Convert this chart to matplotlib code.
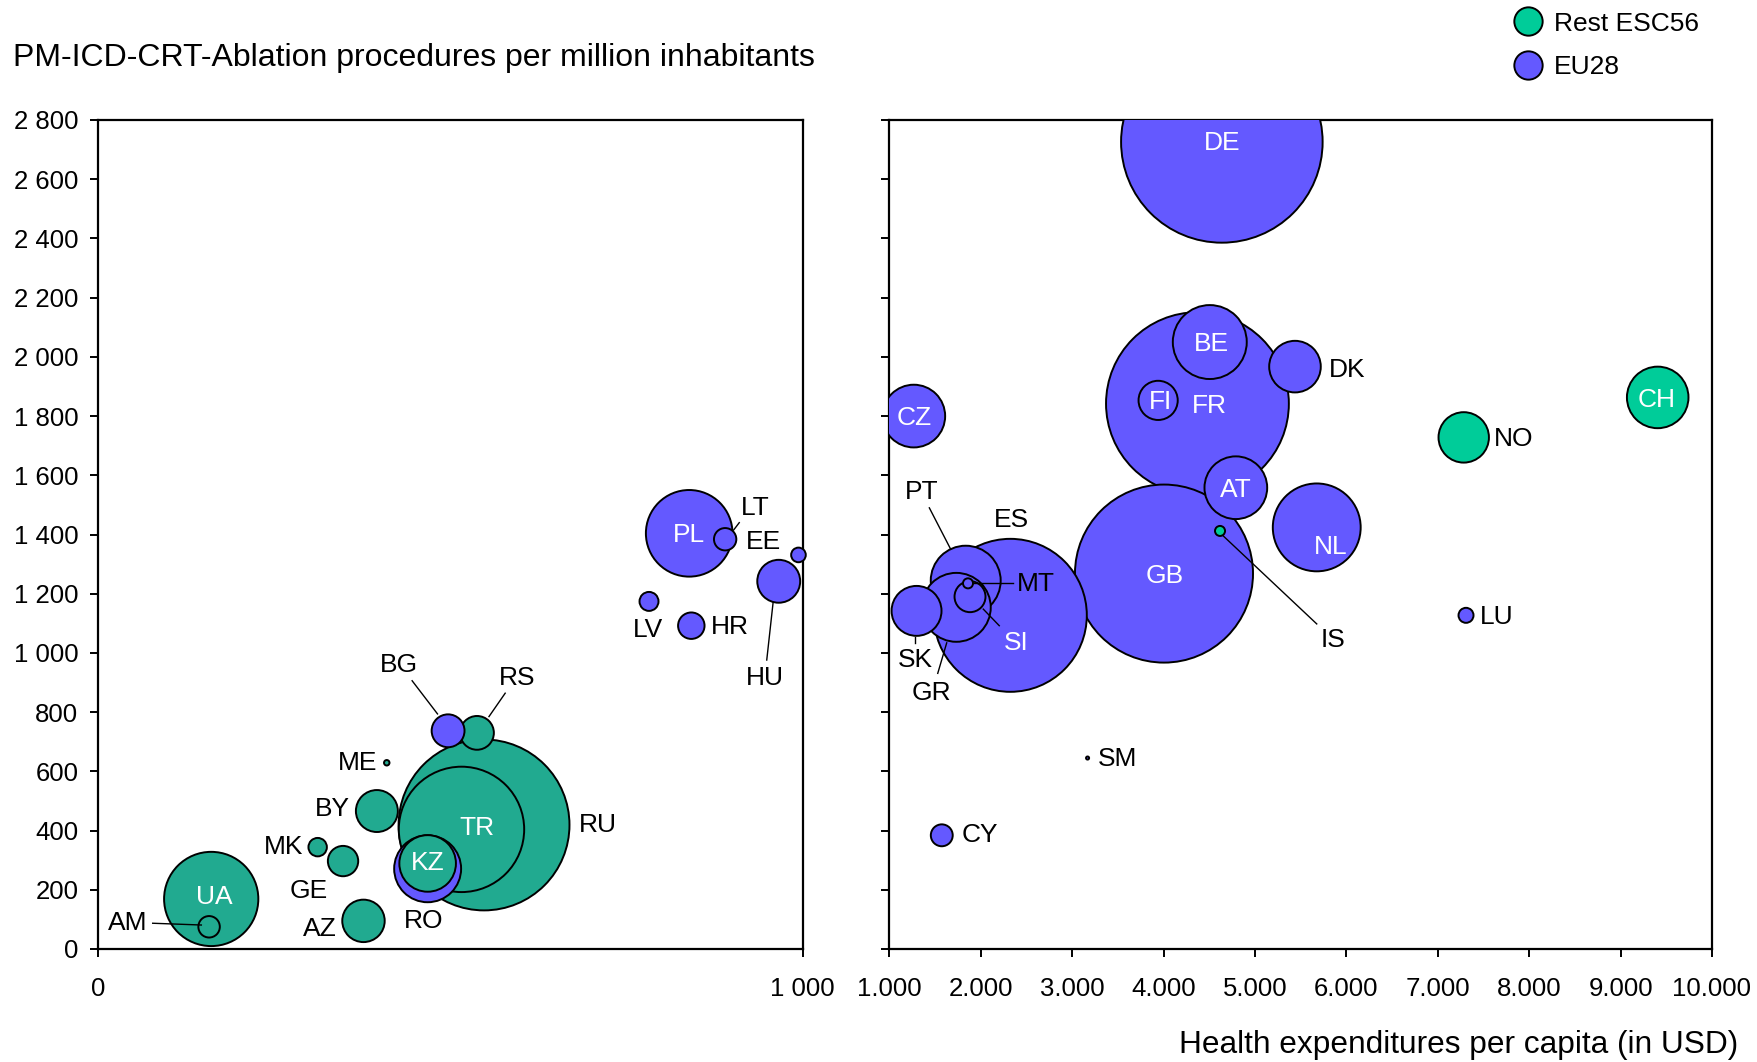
import matplotlib
matplotlib.use("Agg")
import matplotlib.pyplot as plt
import numpy as np
from matplotlib.lines import Line2D

plt.rcParams['font.family'] = ['Liberation Sans', 'DejaVu Sans']

# Données : pays, dépenses de santé (USD), procédures par million, population (M)
left_codes = ["UA", "AM", "MK", "GE", "AZ", "BY", "ME", "BG", "RS", "RU",
              "TR", "KZ", "RO", "PL", "LT", "EE", "HU", "LV", "HR"]
left_exp = [161, 158, 312, 348, 377, 396, 410, 497, 538, 548,
            516, 468, 468, 839, 890, 994, 966, 782, 842]
left_proc = [169, 75, 344, 297, 95, 466, 629, 737, 730, 419,
             404, 289, 271, 1404, 1384, 1331, 1242, 1174, 1092]
left_pop = [44.4, 2.3, 1.7, 4.6, 9.0, 8.8, 0.15, 5.4, 5.7, 146,
            78.6, 16.0, 22.4, 37.5, 2.5, 1.07, 9.2, 1.8, 3.5]
left_eu = [0, 0, 0, 0, 0, 0, 0, 1, 0, 0,
           0, 0, 1, 1, 1, 1, 1, 1, 1]

right_codes = ["DE", "FR", "GB", "ES", "BE", "NL", "FI", "DK", "CZ", "AT", "CH",
               "NO", "PT", "GR", "SK", "SI", "MT", "IS", "LU", "SM", "CY"]
right_exp = [4638, 4371, 4005, 2324, 4506, 5676, 3941, 5438, 1268, 4791, 9406,
             7284, 1836, 1733, 1298, 1883, 1861, 4618, 7309, 3169, 1574]
right_proc = [2726, 1842, 1268, 1127, 2050, 1424, 1853, 1967, 1800, 1558, 1863,
              1728, 1244, 1154, 1142, 1190, 1235, 1412, 1127, 645, 384]
right_pop = [84.7, 69.7, 66.1, 48.8, 11.4, 16.1, 3.2, 5.55, 8.2, 8.2, 7.9,
             5.3, 10.2, 9.9, 5.2, 2.0, 0.21, 0.21, 0.47, 0.02, 1.0]
right_eu = [1, 1, 1, 1, 1, 1, 1, 1, 1, 1, 0,
            0, 1, 1, 1, 1, 1, 0, 1, 1, 1]

blue = "#6459FF"
green = "#00CC99"
teal = "#21AA90"

W, H, DPI = 1758, 1062, 100
fig = plt.figure(figsize=(W / DPI, H / DPI), dpi=DPI)

ax_l = fig.add_axes([97.7 / W, 1 - 949 / H, 705 / W, 829 / H])
ax_r = fig.add_axes([889.3 / W, 1 - 949 / H, 822.7 / W, 829 / H])


def bubbles(ax, x, y, pop, eu, rest_color, scale, clip):
    order = np.argsort(pop)[::-1]
    x = np.array(x)[order]
    y = np.array(y)[order]
    s = np.array(pop)[order] * scale
    cols = [blue if eu[i] else rest_color for i in order]
    ax.scatter(x, y, s=s, c=cols, edgecolors="black", linewidths=1.4,
               clip_on=clip, zorder=3)


# échelles différentes pour les deux panneaux
bubbles(ax_l, left_exp, left_proc, left_pop, left_eu, teal, 103.7, False)
bubbles(ax_r, right_exp, right_proc, right_pop, right_eu, green, 248.6, True)

for ax in (ax_l, ax_r):
    ax.set_ylim(0, 2800)
    ax.set_yticks(np.arange(0, 2801, 200))
    for sp in ax.spines.values():
        sp.set_linewidth(1.6)
    ax.tick_params(direction="out", length=6, width=1.4, labelsize=18.5, pad=8)

ax_l.set_xlim(0, 1000)
ax_l.set_xticks([0, 1000])
ax_l.set_xticklabels(["0", "1 000"])
ax_l.set_yticklabels([f"{v:,}".replace(",", " ") for v in range(0, 2801, 200)])
ax_l.tick_params(axis="x", pad=14)

ax_r.set_xlim(1000, 10000)
ax_r.set_xticks(np.arange(1000, 10001, 1000))
ax_r.set_xticklabels([f"{v:,}".replace(",", ".") for v in range(1000, 10001, 1000)])
ax_r.set_yticklabels([])
ax_r.tick_params(axis="x", pad=14)

fs = 19


def lab(ax, txt, x, y, color="black", line=None, ha="center"):
    ax.text(x, y, txt, fontsize=fs, color=color, ha=ha, va="center", zorder=5)
    if line is not None:
        (x0, y0), (x1, y1) = line
        ax.plot([x0, x1], [y0, y1], color="black", lw=1.0, zorder=4, clip_on=False)


# étiquettes panneau gauche
lab(ax_l, "UA", 165, 177, "white")
lab(ax_l, "TR", 538, 408, "white")
lab(ax_l, "KZ", 468, 289, "white")
lab(ax_l, "PL", 839, 1398, "white")
lab(ax_l, "AM", 43, 89, line=((78, 87), (147, 81)))
lab(ax_l, "BG", 427, 959, line=((446, 906), (482, 794)))
lab(ax_l, "RS", 595, 916, line=((578, 864), (555, 785)))
lab(ax_l, "ME", 368, 627)
lab(ax_l, "BY", 333, 472)
lab(ax_l, "MK", 263, 346)
lab(ax_l, "GE", 299, 197)
lab(ax_l, "AZ", 315, 67)
lab(ax_l, "RO", 462, 95)
lab(ax_l, "RU", 710, 419)
lab(ax_l, "LT", 932, 1488, line=((910, 1440), (902, 1415)))
lab(ax_l, "EE", 945, 1376)
lab(ax_l, "LV", 781, 1077)
lab(ax_l, "HR", 896, 1089)
lab(ax_l, "HU", 946, 914, line=((949, 976), (958, 1170)))

# étiquettes panneau droit
lab(ax_r, "DE", 4647, 2721, "white")
lab(ax_r, "BE", 4519, 2043, "white")
lab(ax_r, "FI", 3967, 1846, "white")
lab(ax_r, "FR", 4506, 1834, "white")
lab(ax_r, "CZ", 1268, 1793, "white")
lab(ax_r, "CH", 9398, 1854, "white")
lab(ax_r, "AT", 4787, 1550, "white")
lab(ax_r, "NL", 5831, 1358, "white")
lab(ax_r, "GB", 4016, 1259, "white")
lab(ax_r, "SI", 2386, 1034, "white", line=((2203, 1092), (2028, 1148)))
lab(ax_r, "DK", 6003, 1955)
lab(ax_r, "NO", 7830, 1724)
lab(ax_r, "IS", 5854, 1043, line=((4654, 1395), (5676, 1098)))
lab(ax_r, "LU", 7646, 1122)
lab(ax_r, "SM", 3500, 642)
lab(ax_r, "CY", 1992, 384)
lab(ax_r, "PT", 1355, 1544, line=((1438, 1490), (1672, 1350)))
lab(ax_r, "ES", 2339, 1449)
lab(ax_r, "MT", 2602, 1232, line=((1930, 1235), (2350, 1235)))
lab(ax_r, "SK", 1281, 976, line=((1284, 1032), (1284, 1055)))
lab(ax_r, "GR", 1464, 864, line=((1530, 931), (1628, 1034)))

fig.text(13.5 / W, 1 - 58 / H, "PM-ICD-CRT-Ablation procedures per million inhabitants",
         fontsize=23, va="center", ha="left")
fig.text(1738 / W, 1 - 1045 / H, "Health expenditures per capita (in USD)",
         fontsize=22.8, va="center", ha="right")

handles = [
    Line2D([], [], marker="o", ls="", markersize=20.4, markerfacecolor=green,
           markeredgecolor="black", markeredgewidth=1.4, label="Rest ESC56"),
    Line2D([], [], marker="o", ls="", markersize=20.4, markerfacecolor=blue,
           markeredgecolor="black", markeredgewidth=1.4, label="EU28"),
]
fig.legend(handles=handles, loc="upper left", bbox_to_anchor=(1504 / W, 1 - 9 / H),
           frameon=False, fontsize=19, handletextpad=0.2, labelspacing=0.75,
           borderaxespad=0, borderpad=0.1, handlelength=1.6)

fig.savefig("out.png", dpi=DPI)
